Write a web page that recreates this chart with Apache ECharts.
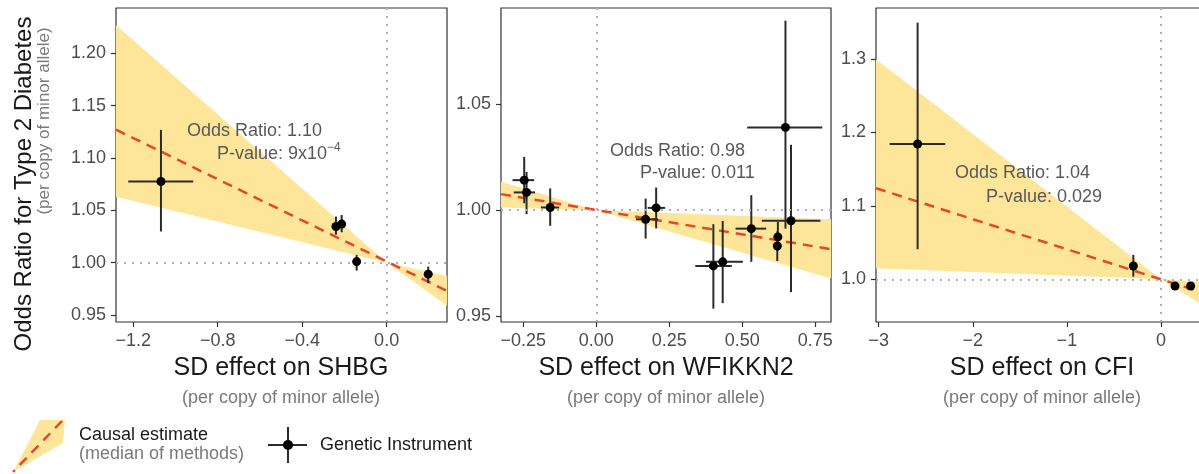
<!DOCTYPE html>
<html>
<head>
<meta charset="utf-8">
<script src="https://cdn.jsdelivr.net/npm/echarts@6/dist/echarts.min.js"></script>
<style>
  html, body { margin: 0; padding: 0; background: #fff; }
  #main { width: 1199px; height: 474px; }
</style>
</head>
<body>
<div id="main"></div>
<script>
// SHBG panel: genetic instruments (SD effect, odds ratio with intervals)
var shbgX    = [-1.069, -0.240, -0.213, -0.142, 0.197];
var shbgXLo  = [-1.224, -0.260, -0.233, -0.155, 0.182];
var shbgXHi  = [-0.916, -0.220, -0.193, -0.129, 0.212];
var shbgOR   = [1.0775, 1.0345, 1.0368, 1.0010, 0.9890];
var shbgORLo = [1.0298, 1.0267, 1.0290, 0.9924, 0.9804];
var shbgORHi = [1.1268, 1.0440, 1.0455, 1.0074, 0.9963];
var shbgFitX  = [-1.282, 0.286];
var shbgFitOR = [1.127, 0.973];
var shbgBandX  = [-1.282, 0, 0.286];
var shbgBandLo = [1.063, 1.0, 0.959];
var shbgBandHi = [1.227, 1.0, 0.9875];

// WFIKKN2 panel
var wfX    = [-0.247, -0.239, -0.158, 0.169, 0.205, 0.401, 0.433, 0.531, 0.622, 0.620, 0.648, 0.667];
var wfXLo  = [-0.287, -0.283, -0.190, 0.136, 0.176, 0.339, 0.376, 0.477, 0.608, 0.606, 0.517, 0.567];
var wfXHi  = [-0.213, -0.210, -0.127, 0.211, 0.236, 0.464, 0.502, 0.582, 0.636, 0.634, 0.774, 0.768];
var wfOR   = [1.0142, 1.0084, 1.0013, 0.9957, 1.0011, 0.9737, 0.9756, 0.9913, 0.9874, 0.9831, 1.0391, 0.9950];
var wfORLo = [1.0033, 0.9981, 0.9926, 0.9866, 0.9914, 0.9535, 0.9561, 0.9756, 0.9810, 0.9760, 0.9913, 0.9613];
var wfORHi = [1.0252, 1.0181, 1.0103, 1.0055, 1.0107, 0.9934, 0.9949, 1.0071, 0.9945, 0.9900, 1.0895, 1.0309];
var wfFitX  = [-0.3265, 0.804];
var wfFitOR = [1.0076, 0.9816];
var wfBandX  = [-0.3265, 0, 0.804];
var wfBandLo = [1.0013, 1.0, 0.9677];
var wfBandHi = [1.0134, 1.0, 0.9957];

// CFI panel
var cfiX    = [-2.586, -0.294, 0.149, 0.315];
var cfiXLo  = [-2.883, -0.330, 0.125, 0.290];
var cfiXHi  = [-2.292, -0.258, 0.173, 0.340];
var cfiOR   = [1.1843, 1.0181, 0.9909, 0.9909];
var cfiORLo = [1.0409, 1.0036, 0.9860, 0.9860];
var cfiORHi = [1.3496, 1.0332, 0.9958, 0.9958];
var cfiFitX  = [-3.028, 0.51];
var cfiFitOR = [1.124, 0.979];
var cfiBandX  = [-3.028, 0, 0.51];
var cfiBandLo = [1.015, 1.0, 0.959];
var cfiBandHi = [1.2997, 1.0, 0.996];

// tick labels
var shbgXTicks = [-1.2, -0.8, -0.4, 0];
var shbgYTicks = [0.95, 1.00, 1.05, 1.10, 1.15, 1.20];
var wfXTicks = [-0.25, 0, 0.25, 0.5, 0.75];
var wfYTicks = [0.95, 1.00, 1.05];
var cfiXTicks = [-3, -2, -1, 0];
var cfiYTicks = [1.0, 1.1, 1.2, 1.3];

var annotations = [
    ['Odds Ratio: 1.10', 'P-value: 9x10', '\u22124'],
    ['Odds Ratio: 0.98', 'P-value: 0.011', ''],
    ['Odds Ratio: 1.04', 'P-value: 0.029', '']
];

var FONT = 'Liberation Sans, Arial, Helvetica, sans-serif';
var BAND = '#fde69a';
var RED = '#e5462c';
var REF = '#b0b0b0';
var BAR = '#2b2b2b';

function fmt(d) {
    return function (v) {
        var s = Math.abs(v).toFixed(d);
        return (v < -1e-9 ? '\u2212' : '') + s;
    };
}

function bandRender(bx, lo, hi) {
    return function (params, api) {
        var i = params.dataIndex;
        if (i >= bx.length - 1) return;
        var pts = [
            api.coord([bx[i], lo[i]]),
            api.coord([bx[i + 1], lo[i + 1]]),
            api.coord([bx[i + 1], hi[i + 1]]),
            api.coord([bx[i], hi[i]])
        ];
        return {type: 'polygon', shape: {points: pts}, style: {fill: BAND}};
    };
}

function errRender(params, api) {
    var x = api.value(0), y = api.value(3);
    var p = api.coord([x, y]);
    var l = api.coord([api.value(1), y]);
    var r = api.coord([api.value(2), y]);
    var b = api.coord([x, api.value(4)]);
    var t = api.coord([x, api.value(5)]);
    var st = {stroke: BAR, lineWidth: 2};
    return {
        type: 'group',
        children: [
            {type: 'line', shape: {x1: l[0], y1: p[1], x2: r[0], y2: p[1]}, style: st},
            {type: 'line', shape: {x1: p[0], y1: t[1], x2: p[0], y2: b[1]}, style: st}
        ]
    };
}

var panels = [
    {left: 116, width: 331, xMin: -1.282, xMax: 0.286, yMin: 0.9433, yMax: 1.2432,
     xt: shbgXTicks, yt: shbgYTicks, xd: 1, yd: 2,
     x: shbgX, xlo: shbgXLo, xhi: shbgXHi, y: shbgOR, ylo: shbgORLo, yhi: shbgORHi,
     fx: shbgFitX, fy: shbgFitOR, bx: shbgBandX, blo: shbgBandLo, bhi: shbgBandHi},
    {left: 501, width: 330, xMin: -0.3265, xMax: 0.804, yMin: 0.9472, yMax: 1.0955,
     xt: wfXTicks, yt: wfYTicks, xd: 2, yd: 2,
     x: wfX, xlo: wfXLo, xhi: wfXHi, y: wfOR, ylo: wfORLo, yhi: wfORHi,
     fx: wfFitX, fy: wfFitOR, bx: wfBandX, blo: wfBandLo, bhi: wfBandHi},
    {left: 876, width: 333, xMin: -3.028, xMax: 0.51, yMin: 0.9418, yMax: 1.3695,
     xt: cfiXTicks, yt: cfiYTicks, xd: 0, yd: 1,
     x: cfiX, xlo: cfiXLo, xhi: cfiXHi, y: cfiOR, ylo: cfiORLo, yhi: cfiORHi,
     fx: cfiFitX, fy: cfiFitOR, bx: cfiBandX, blo: cfiBandLo, bhi: cfiBandHi}
];

var grids = [], xAxes = [], yAxes = [], series = [];
panels.forEach(function (p, gi) {
    grids.push({
        left: p.left, top: 8, width: p.width, height: 314,
        show: true, borderColor: '#333', borderWidth: 1.2, backgroundColor: '#fff',
        containLabel: false, outerBoundsMode: 'none'
    });
    var lab = {color: '#4d4d4d', fontSize: 18, fontFamily: FONT};
    xAxes.push({
        type: 'value', gridIndex: gi, min: p.xMin, max: p.xMax,
        axisLine: {show: false, onZero: false},
        axisTick: {show: true, length: 5, lineStyle: {color: '#333', width: 1.2}, customValues: p.xt},
        axisLabel: Object.assign({margin: 10, customValues: p.xt, formatter: fmt(p.xd)}, lab),
        splitLine: {show: false}
    });
    yAxes.push({
        type: 'value', gridIndex: gi, min: p.yMin, max: p.yMax,
        axisLine: {show: false, onZero: false},
        axisTick: {show: true, length: 5, lineStyle: {color: '#333', width: 1.2}, customValues: p.yt},
        axisLabel: Object.assign({margin: 10, customValues: p.yt, formatter: fmt(p.yd)}, lab),
        splitLine: {show: false}
    });

    // causal estimate band
    series.push({
        type: 'custom', xAxisIndex: gi, yAxisIndex: gi, z: 1, silent: true, clip: true,
        renderItem: bandRender(p.bx, p.blo, p.bhi),
        encode: {x: 0, y: [1, 2]},
        data: p.bx.map(function (x, i) { return [x, p.blo[i], p.bhi[i]]; })
    });
    // median estimate line + reference lines
    series.push({
        type: 'line', xAxisIndex: gi, yAxisIndex: gi, z: 3, silent: true,
        symbol: 'none',
        lineStyle: {color: RED, width: 2.5, type: [10, 7]},
        data: p.fx.map(function (x, i) { return [x, p.fy[i]]; }),
        markLine: {
            silent: true, symbol: ['none', 'none'], label: {show: false},
            lineStyle: {color: REF, width: 2, type: [2, 6]},
            data: [{xAxis: 0}, {yAxis: 1}]
        }
    });
    // error bars
    series.push({
        type: 'custom', xAxisIndex: gi, yAxisIndex: gi, z: 4, silent: true, clip: true,
        renderItem: errRender,
        encode: {x: [0, 1, 2], y: [3, 4, 5]},
        data: p.x.map(function (x, i) { return [x, p.xlo[i], p.xhi[i], p.y[i], p.ylo[i], p.yhi[i]]; })
    });
    // points
    series.push({
        type: 'scatter', xAxisIndex: gi, yAxisIndex: gi, z: 5, silent: true,
        symbolSize: 9, itemStyle: {color: '#000', opacity: 1},
        data: p.x.map(function (x, i) { return [x, p.y[i]]; })
    });
});

function txt(x, y, s, size, color, align, extra) {
    var o = {
        type: 'text', x: x, y: y, z: 10, silent: true,
        style: {text: s, fontSize: size, fontFamily: FONT, fill: color,
                align: align || 'left', verticalAlign: 'middle'}
    };
    if (extra) Object.assign(o, extra);
    return o;
}

var graphics = [
    // y axis titles
    txt(24, 184, 'Odds Ratio for Type 2 Diabetes', 24, '#1a1a1a', 'center', {rotation: Math.PI / 2}),
    txt(44, 121, '(per copy of minor allele)', 17, '#7a7a7a', 'center', {rotation: Math.PI / 2}),
    // x axis titles
    txt(281, 368, 'SD effect on SHBG', 25, '#1a1a1a', 'center'),
    txt(281, 398, '(per copy of minor allele)', 18, '#7a7a7a', 'center'),
    txt(666, 368, 'SD effect on WFIKKN2', 25, '#1a1a1a', 'center'),
    txt(666, 398, '(per copy of minor allele)', 18, '#7a7a7a', 'center'),
    txt(1042, 368, 'SD effect on CFI', 25, '#1a1a1a', 'center'),
    txt(1042, 398, '(per copy of minor allele)', 18, '#7a7a7a', 'center'),
    // annotations
    txt(187, 131, annotations[0][0], 18, '#595959'),
    txt(217, 154, annotations[0][1], 18, '#595959'),
    txt(327, 148, annotations[0][2], 12, '#595959'),
    txt(610, 151, annotations[1][0], 18, '#595959'),
    txt(640, 173, annotations[1][1], 18, '#595959'),
    txt(955, 173, annotations[2][0], 18, '#595959'),
    txt(986, 197, annotations[2][1], 18, '#595959'),
    // legend: causal estimate
    {type: 'polygon', silent: true, shape: {points: [[13, 472], [40, 420], [65, 420], [63, 443]]},
     style: {fill: BAND}},
    {type: 'polyline', silent: true, shape: {points: [[62, 421], [13, 472]]},
     style: {stroke: RED, lineWidth: 2.5, lineDash: [10, 7], fill: null}},
    txt(79, 435, 'Causal estimate', 18, '#1a1a1a'),
    txt(79, 454, '(median of methods)', 18, '#7a7a7a'),
    // legend: genetic instrument
    {type: 'line', silent: true, shape: {x1: 268, y1: 445, x2: 307, y2: 445}, style: {stroke: BAR, lineWidth: 2}},
    {type: 'line', silent: true, shape: {x1: 288, y1: 427, x2: 288, y2: 463}, style: {stroke: BAR, lineWidth: 2}},
    {type: 'circle', silent: true, shape: {cx: 288, cy: 445, r: 5}, style: {fill: '#000'}},
    txt(320, 445, 'Genetic Instrument', 18, '#1a1a1a')
];

var myChart = echarts.init(document.getElementById('main'));
myChart.setOption({
    animation: false,
    backgroundColor: '#fff',
    textStyle: {fontFamily: FONT},
    grid: grids,
    xAxis: xAxes,
    yAxis: yAxes,
    series: series,
    graphic: graphics
});
</script>
</body>
</html>
